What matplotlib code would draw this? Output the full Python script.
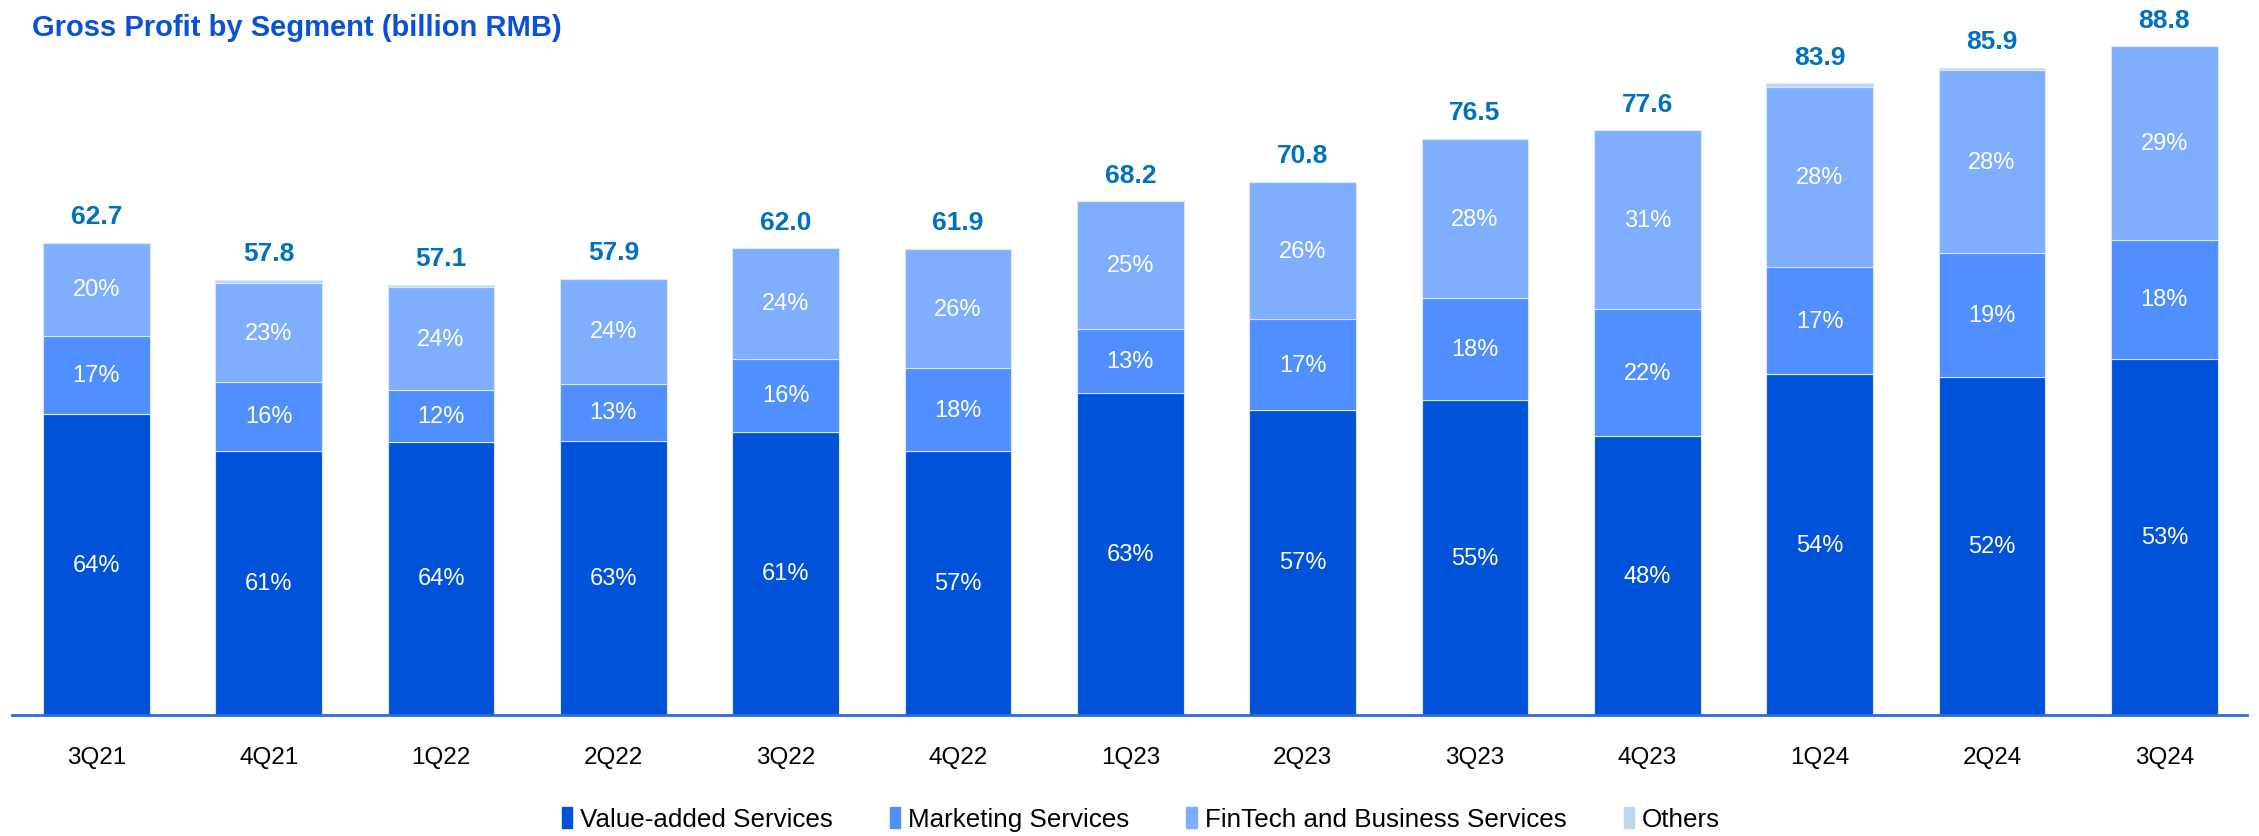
import matplotlib
matplotlib.use("Agg")
import matplotlib.pyplot as plt
from matplotlib.patches import Rectangle
import numpy as np

plt.rcParams['font.family'] = ['Liberation Sans', 'DejaVu Sans']

# Gross profit by segment, billion RMB
quarters = ["3Q21", "4Q21", "1Q22", "2Q22", "3Q22", "4Q22", "1Q23",
            "2Q23", "3Q23", "4Q23", "1Q24", "2Q24", "3Q24"]
value_added = [39.9, 35.1, 36.3, 36.4, 37.6, 35.1, 42.7, 40.5, 41.8, 37.0, 45.2, 44.8, 47.3]
marketing = [10.4, 9.1, 6.8, 7.6, 9.7, 10.9, 8.6, 12.0, 13.5, 16.9, 14.3, 16.5, 15.8]
fintech = [12.4, 13.1, 13.7, 13.9, 14.7, 15.9, 16.9, 18.3, 21.2, 23.7, 23.9, 24.3, 25.7]
others = [0.0, 0.5, 0.3, 0.0, 0.0, 0.0, 0.0, 0.0, 0.0, 0.0, 0.5, 0.3, 0.0]

series_names = ["Value-added Services", "Marketing Services",
                "FinTech and Business Services", "Others"]
colors = ["#0052D9", "#4F8FFF", "#7FAEFF", "#BDD7EE"]

segments = [np.array(value_added), np.array(marketing),
            np.array(fintech), np.array(others)]
totals = sum(segments)

fig = plt.figure(figsize=(22.59, 8.37), dpi=100)
ax = fig.add_axes([0.0053, 0.1446, 0.9894, 0.855])

x = np.arange(len(quarters))
width = 0.62
bottom = np.zeros(len(quarters))
for i, (vals, col) in enumerate(zip(segments, colors)):
    ax.bar(x, vals, width, bottom=bottom, color=col,
           edgecolor="#dbe7fb", linewidth=0.8, zorder=2)
    if i < 3:
        for xi, v, b, t in zip(x, vals, bottom, totals):
            ax.text(xi, b + v / 2, f"{round(100 * v / t):.0f}%",
                    ha="center", va="center", color="white", fontsize=17)
    bottom = bottom + vals

for xi, t in zip(x, totals):
    ax.annotate(f"{t:.1f}", (xi, t), xytext=(0, 19), textcoords="offset points",
                ha="center", va="center", color="#0070C0",
                fontsize=19, fontweight="bold")

ax.set_xlim(-0.49, len(quarters) - 1 + 0.48)
ax.set_ylim(0, 95)
ax.set_xticks(x)
ax.set_xticklabels(quarters, fontsize=17.5, color="black")
ax.tick_params(axis="x", length=0, pad=22)
ax.set_yticks([])
for side in ["left", "right", "top"]:
    ax.spines[side].set_visible(False)
ax.spines["bottom"].set_color("#2F6BD8")
ax.spines["bottom"].set_linewidth(2)

fig.text(0.014, 0.967, "Gross Profit by Segment (billion RMB)",
         color="#0A50D8", fontsize=21, fontweight="bold", ha="left", va="center")

handles = [Rectangle((0, 0), 1, 1, color=c) for c in colors]
fig.legend(handles, series_names, loc="center", bbox_to_anchor=(0.505, 0.02),
           ncol=4, frameon=False, fontsize=18.7, handlelength=0.4,
           handleheight=0.85, handletextpad=0.3, columnspacing=2.2)

fig.savefig("out.png", dpi=100)
